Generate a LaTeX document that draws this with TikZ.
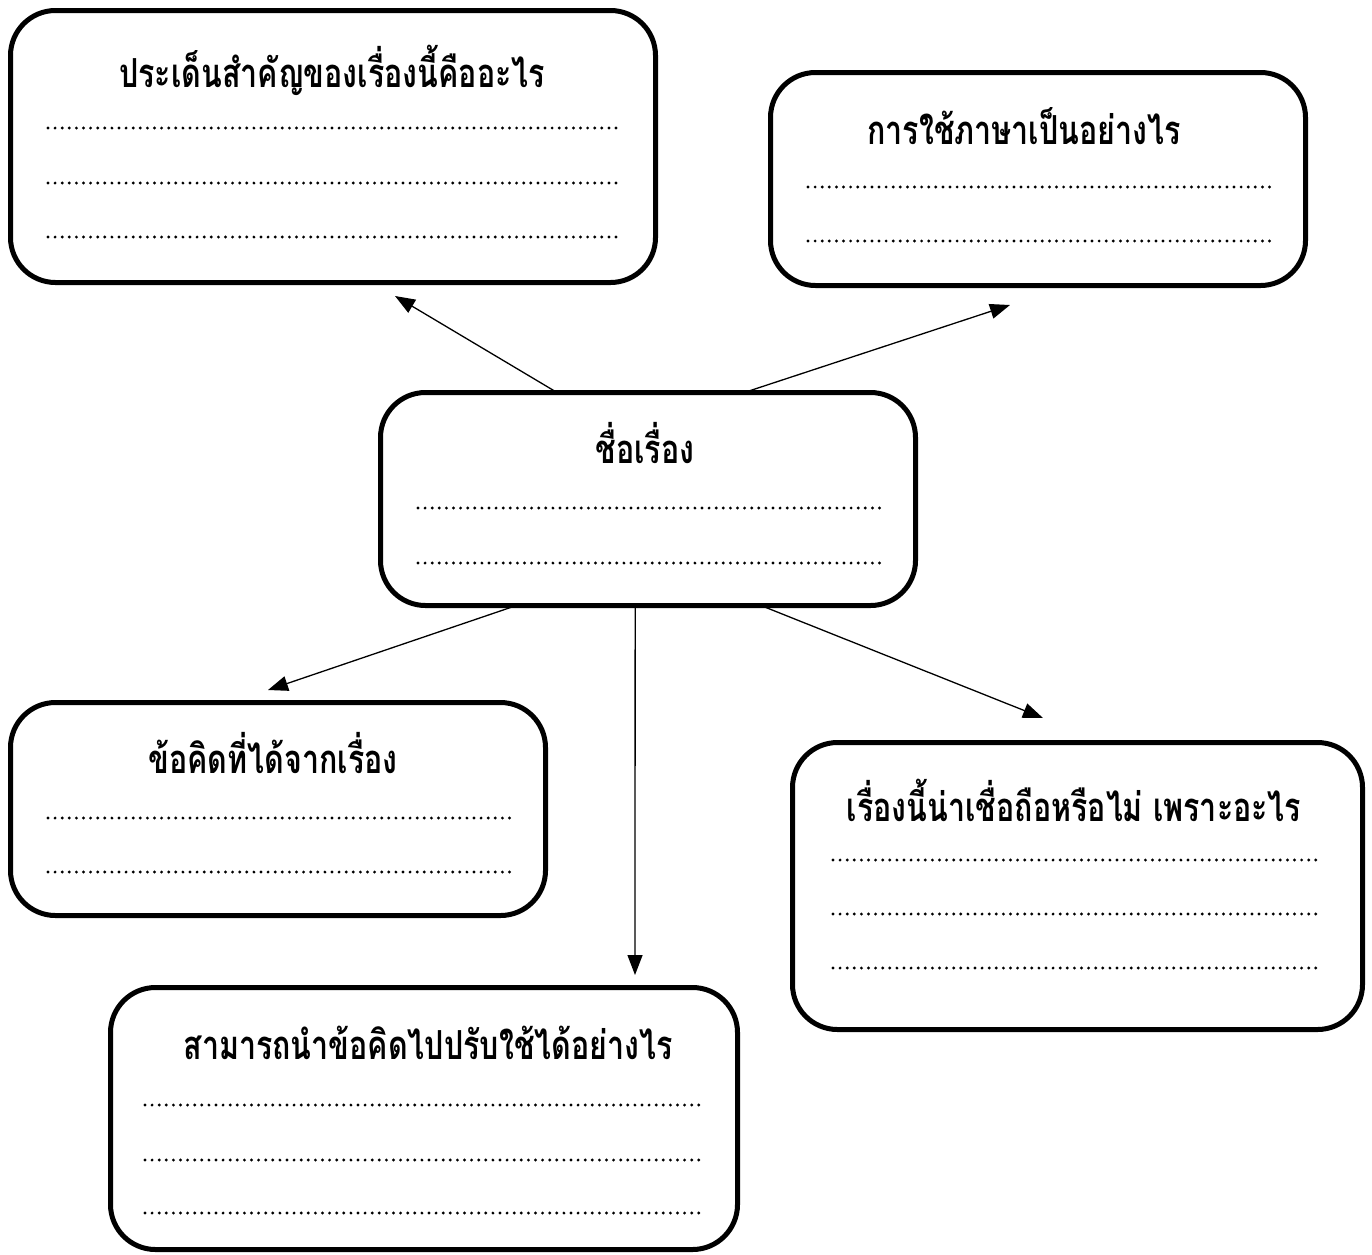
\documentclass[tikz,border=0pt]{standalone}
\usepackage{fontspec}
\newfontfamily\thaifont[Script=Thai,FakeStretch=0.76]{Loma}
\usetikzlibrary{arrows.meta,calc}
\begin{document}
\begin{tikzpicture}[x=1pt,y=-1pt,
  box/.style={draw=black,line width=5pt,rounded corners=45pt,fill=white,inner sep=0pt,outer sep=0pt},
  title/.style={font=\thaifont\bfseries\fontsize{40}{46}\selectfont,inner sep=0pt,anchor=center},
  dotline/.style={line width=3.2pt,line cap=round,dash pattern=on 0pt off 7.1pt},
  conn/.style={line width=1.3pt,-{Triangle[length=20pt,width=15pt]}}]
\useasboundingbox (0,0) rectangle (1372,1254);
% boxes
\node[box,minimum width=645pt,minimum height=272pt] (b1) at (333,146.5) {};
\node[box,minimum width=535pt,minimum height=213pt] (b2) at (1038,179) {};
\node[box,minimum width=535pt,minimum height=213pt] (c) at (648,499) {};
\node[box,minimum width=535pt,minimum height=213pt] (b4) at (278,809) {};
\node[box,minimum width=570pt,minimum height=287pt] (b5) at (1077.5,886) {};
\node[box,minimum width=627pt,minimum height=262pt] (b6) at (424,1118.5) {};
% titles
\node[title] (t1) at (332,70) {ประเด็นสำคัญของเรื่องนี้คืออะไร};
\node[title] (t2) at (1024,126) {การใช้ภาษาเป็นอย่างไร};
\node[title] (t3) at (645,443) {ชื่อเรื่อง};
\node[title] (t4) at (273,753) {ข้อคิดที่ได้จากเรื่อง};
\node[title] (t5) at (1074,800) {เรื่องนี้น่าเชื่อถือหรือไม่ เพราะอะไร};
\node[title] (t6) at (428,1043) {สามารถนำข้อคิดไปปรับใช้ได้อย่างไร};
% dotted lines
\foreach \y in {128,183,237} \draw[dotline] (48,\y) -- (620,\y);
\foreach \y in {187,241} \draw[dotline] (808,\y) -- (1270,\y);
\foreach \y in {508,563} \draw[dotline] (418,\y) -- (880,\y);
\foreach \y in {818,872} \draw[dotline] (48,\y) -- (510,\y);
\foreach \y in {860,914,968} \draw[dotline] (833,\y) -- (1320,\y);
\foreach \y in {1105,1160,1213} \draw[dotline] (145,\y) -- (700,\y);
% arrow free ends
\coordinate (e1) at (395,296);
\coordinate (e2) at (1010,305);
\coordinate (e3) at (268,690);
\coordinate (e4) at (635,975);
\coordinate (e5) at (1043,718);
\draw[conn] ($(c.north west)!0.33!(c.north east)$) -- (e1);
\draw[conn] ($(c.north west)!0.68!(c.north east)$) -- (e2);
\draw[conn] ($(c.south west)!0.254!(c.south east)$) -- (e3);
\draw[conn] ($(c.south west)!0.476!(c.south east)$) -- (e4);
\draw[conn] ($(c.south west)!0.711!(c.south east)$) -- (e5);
\end{tikzpicture}
\end{document}
